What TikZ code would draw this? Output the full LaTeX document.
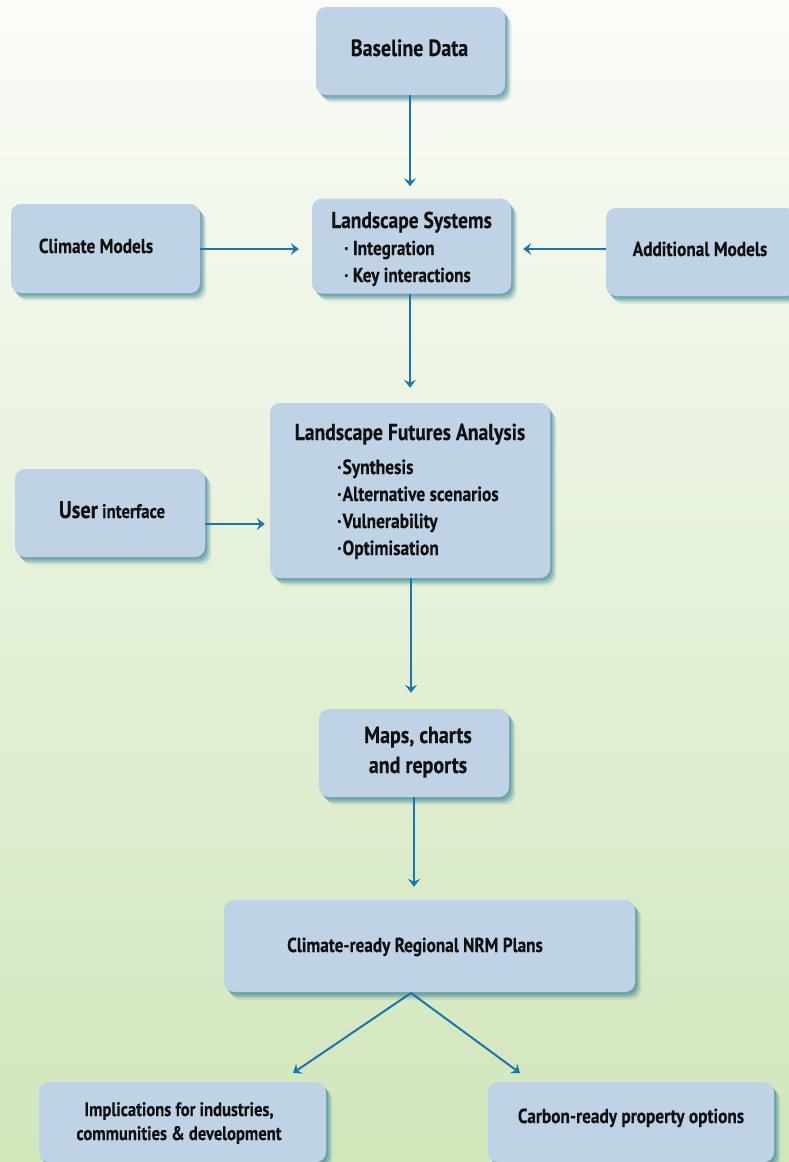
\documentclass[tikz,border=0pt]{standalone}
\usepackage{fontspec}
\setmainfont{PT Sans}[FakeStretch=0.85, BoldFeatures={FakeBold=0.3}]
\usetikzlibrary{arrows.meta,shadows}
\definecolor{boxfill}{RGB}{191,210,230}
\definecolor{shcol}{RGB}{48,125,145}
\definecolor{arr}{RGB}{27,117,175}
\definecolor{bgtop}{RGB}{250,252,248}
\definecolor{bgbot}{RGB}{209,230,187}
\definecolor{txt}{RGB}{17,17,17}
\tikzset{
 bx/.style={rounded corners=10pt, fill=boxfill, inner sep=0pt, draw=none,
  general shadow={fill=shcol, opacity=.10, shadow xshift=6.5pt, shadow yshift=-8pt},
  general shadow={fill=shcol, opacity=.18, shadow xshift=5pt, shadow yshift=-6pt},
  general shadow={fill=shcol, opacity=.26, shadow xshift=3.5pt, shadow yshift=-4.5pt},
  general shadow={fill=shcol, opacity=.32, shadow xshift=2pt, shadow yshift=-2.5pt}},
 lbl/.style={text=txt, inner sep=0pt, font=\bfseries\fontsize{#1}{#1}\selectfont},
 lbl/.default=20,
 ar/.style={draw=arr, line width=2pt, -{Stealth[length=8pt,width=12pt,inset=3pt]}}
}
\begin{document}
\begin{tikzpicture}[x=1pt,y=-1pt]
\useasboundingbox (0,0) rectangle (789,1162);
\shade[top color=bgtop, bottom color=bgbot] (0,0) rectangle (789,1162);

% boxes
\node[bx, minimum width=189pt, minimum height=88pt] (base) at (410.5,51) {};
\node[bx, minimum width=199pt, minimum height=95pt] (ls) at (411.5,246) {};
\node[bx, minimum width=189pt, minimum height=89pt] (clim) at (105.5,248.5) {};
\node[bx, minimum width=190pt, minimum height=88pt] (add) at (701,252) {};
\node[bx, minimum width=280pt, minimum height=175pt] (lfa) at (410,490.5) {};
\node[bx, minimum width=190pt, minimum height=88pt] (user) at (110,513) {};
\node[bx, minimum width=190pt, minimum height=88pt] (maps) at (414,753) {};
\node[bx, minimum width=411pt, minimum height=92pt] (nrm) at (429.5,946) {};
\node[bx, minimum width=287pt, minimum height=80pt] (impl) at (182.5,1122) {};
\node[bx, minimum width=286pt, minimum height=80pt] (carb) at (631,1122) {};

% texts
\node[lbl=23.5, anchor=base] (tbase) at (409.5,56) {Baseline Data};
\node[lbl=22.9, anchor=base] (tls) at (411.5,228) {Landscape Systems};
\node[lbl=20.2, anchor=base west] (tls1) at (344,255) {· Integration};
\node[lbl=20.2, anchor=base west] (tls2) at (344,282) {· Key interactions};
\node[lbl=20.3, anchor=base] (tclim) at (96,253) {Climate Models};
\node[lbl=20.3, anchor=base] (tadd) at (700,256) {Additional Models};
\node[lbl=23.1, anchor=base] (tlfa) at (410,440) {Landscape Futures Analysis};
\node[lbl=20.5, anchor=base west] (tlfa1) at (337,474) {·\kern1pt Synthesis};
\node[lbl=20.5, anchor=base west] (tlfa2) at (337,501) {·\kern1pt Alternative scenarios};
\node[lbl=20.5, anchor=base west] (tlfa3) at (337,528) {·\kern1pt Vulnerability};
\node[lbl=20.5, anchor=base west] (tlfa4) at (337,555) {·\kern1pt Optimisation};
\node[lbl=19.7, anchor=base] (tuser) at (112,518) {{\fontsize{24}{24}\selectfont User} interface};
\node[lbl=23.5, anchor=base] (tmaps1) at (418,743) {Maps, charts};
\node[lbl=23.5, anchor=base] (tmaps2) at (418,773) {and reports};
\node[lbl=20.2, anchor=base] (tnrm) at (415,952) {Climate-ready Regional NRM Plans};
\node[lbl=19.5, anchor=base] (timpl1) at (179,1116) {Implications for industries,};
\node[lbl=19.5, anchor=base] (timpl2) at (179,1140) {communities \& development};
\node[lbl=20.3, anchor=base] (tcarb) at (631,1123) {Carbon-ready property options};

% connectors
\coordinate (split) at (411,993);
\coordinate (tipL) at (293,1073);
\coordinate (tipR) at (520,1073);
\draw[ar, shorten >=12pt] ([xshift=-0.5pt]base.south) -- ([xshift=-0.5pt]base.south |- ls.north);
\draw[ar, shorten >=13pt] ([yshift=-0.5pt]clim.east) -- ([yshift=-0.5pt]clim.east -| ls.west);
\draw[ar, shorten >=12pt] ([yshift=3pt]add.west) -- ([yshift=3pt]add.west -| ls.east);
\draw[ar, shorten >=15pt] ([xshift=-1.5pt]ls.south) -- ([xshift=-1.5pt]ls.south |- lfa.north);
\draw[ar, shorten >=5pt] ([yshift=-11pt]user.east) -- ([yshift=-11pt]user.east -| lfa.west);
\draw[ar, shorten >=16pt] ([xshift=1pt]lfa.south) -- ([xshift=1pt]lfa.south |- maps.north);
\draw[ar, shorten >=13pt] (maps.south) -- (maps.south |- nrm.north);
\draw[ar] (split) -- (tipL);
\draw[ar] (split) -- (tipR);
\end{tikzpicture}
\end{document}
